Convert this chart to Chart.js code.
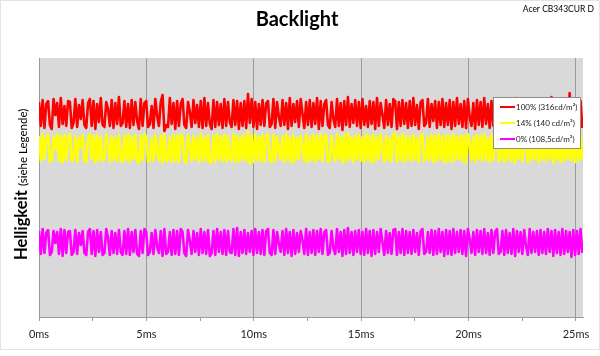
<!DOCTYPE html>
<html><head><meta charset="utf-8">
<script src="https://cdn.jsdelivr.net/npm/chart.js@4/dist/chart.umd.min.js"></script>
<style>html,body{margin:0;padding:0;background:#fff}canvas{display:block}</style>
</head><body>
<canvas id="c" width="600" height="356"></canvas>
<script>
const TITLE = 'Backlight';
const MONITOR = 'Acer CB343CUR D';
const Y_TITLE_MAIN = 'Helligkeit';
const Y_TITLE_SUB = '(siehe Legende)';
const SERIES_LABELS = ['100% (316cd/m²)', '14% (140 cd/m²)', '0% (108,5cd/m²)'];
const SERIES_COLORS = ['#ff0000', '#ffff00', '#ff00ff'];
const X_TICKS_MS = [0, 5, 10, 15, 20, 25];
const X_MAX_MS = 25.33;
const X_END_MS = 25.3;

const red = [
215,191,217,189,213,216,192,188,218,202,214,190,219,193,211,191,216,215,189,194,218,190,212,198,217,
192,189,214,218,191,216,188,213,195,219,192,190,215,208,191,217,189,214,193,220,191,194,216,190,213,
189,217,192,215,196,188,218,191,214,216,190,193,211,189,218,201,191,215,222,186,192,190,219,193,214,
188,216,191,213,218,192,189,215,205,190,217,194,212,190,216,189,219,191,214,193,188,217,190,215,192,
213,189,218,191,215,195,190,217,192,216,188,214,191,216,189,223,194,218,190,215,188,213,192,217,191,
214,216,190,193,218,189,215,200,191,217,192,214,188,219,191,213,195,216,190,218,203,189,215,192,217,
190,214,193,219,188,216,191,213,217,192,189,215,198,190,218,191,214,187,216,192,220,190,213,194,217,
191,215,189,218,192,211,190,216,193,215,188,219,191,214,202,189,217,192,213,190,218,216,188,215,191,
217,193,214,189,216,191,219,192,212,188,215,217,191,194,218,190,213,196,216,189,215,192,218,190,214,
192,217,188,215,191,219,193,213,190,216,189,218,200,191,214,188,217,192,215,190,219,193,213,189,216,
191,214,218,190,192,216,189,215,193,211,190,217,188,219,192,214,191,216,205,189,218,191,213,194,217,
190,215,192,218,189,214,191,220,188,216,193,213,190,217,191,215,189,224,192,214,190,218,191,216,189
];
const yellow = [
181,156,183,158,179,182,155,157,180,168,183,156,181,154,182,157,180,183,156,159,181,155,179,170,182,
157,155,180,183,158,181,154,182,157,180,156,159,183,175,155,181,157,179,156,182,158,155,181,157,183,
155,180,158,182,156,154,181,157,183,180,155,158,179,156,182,166,157,181,154,183,156,158,180,155,182,
156,181,155,183,180,157,154,182,172,156,181,158,179,155,183,157,180,156,182,154,157,181,155,183,158,
180,156,182,155,181,158,157,183,155,181,156,180,157,182,156,185,153,181,155,183,157,180,156,182,155,
181,183,157,155,182,156,180,167,158,181,155,183,157,180,154,182,156,179,158,181,171,156,183,155,180,
157,182,155,181,158,183,156,180,182,155,157,181,164,156,183,158,180,154,182,156,184,157,180,155,181,
158,182,156,180,155,183,157,181,154,182,156,180,158,183,169,155,181,157,179,156,182,184,155,180,157,
183,155,181,157,180,156,182,158,179,155,181,183,156,158,180,157,182,155,181,156,183,158,180,154,182,
156,181,155,183,157,180,158,182,156,181,154,183,173,157,180,155,182,158,181,156,183,157,179,155,182,
157,180,183,156,158,181,155,182,157,179,156,183,154,181,158,180,156,182,170,155,183,157,180,158,181,
155,182,157,180,156,183,158,181,154,182,157,180,155,183,156,181,158,180,157,182,155,181,156,183,157
];
const magenta = [
86,63,88,64,84,87,62,65,86,74,85,63,88,61,87,64,85,86,62,65,87,63,84,72,86,
64,62,85,88,63,86,61,87,65,85,62,64,88,79,62,86,64,84,63,87,65,62,86,63,88,
62,85,65,87,63,61,86,64,88,85,62,65,84,63,87,70,64,86,61,88,63,65,85,62,87,
63,86,62,88,85,64,61,87,76,63,86,65,84,62,88,64,85,63,87,61,64,86,62,88,65,
85,63,87,62,86,65,64,88,62,89,61,85,64,87,63,84,65,86,62,88,64,85,63,87,62,
86,88,64,62,87,63,85,73,65,86,62,88,64,85,61,87,63,84,65,86,77,63,88,62,85,
64,87,62,86,65,88,63,85,87,62,64,86,69,63,88,65,85,61,87,63,89,64,85,62,86,
65,87,63,85,62,88,64,86,61,87,63,85,65,88,75,62,86,64,84,63,87,88,62,85,64,
88,62,86,64,85,63,87,65,84,62,86,88,63,65,85,64,87,62,86,63,88,65,85,61,87,
63,86,62,88,64,85,65,87,63,86,61,88,78,64,85,62,87,65,86,63,88,64,84,62,87,
64,85,88,63,65,86,62,87,64,84,63,88,61,86,65,85,63,87,71,62,88,64,85,65,86,
62,87,64,85,63,88,65,86,61,87,64,85,62,88,63,86,65,85,60,87,62,86,63,88,64
];

const toPoints = arr => arr.map((v, i) => ({ x: i * X_END_MS / (arr.length - 1), y: v }));
const FONT = 'Lato, "Open Sans", sans-serif';

const decorPlugin = {
  id: 'decor',
  beforeDraw(chart) {
    const { ctx, chartArea: a } = chart;
    ctx.save();
    ctx.fillStyle = '#fff';
    ctx.fillRect(0, 0, chart.width, chart.height);
    ctx.strokeStyle = '#e4e4e4';
    ctx.lineWidth = 1;
    ctx.strokeRect(0.5, 0.5, chart.width - 1, 349);
    ctx.fillStyle = '#d9d9d9';
    ctx.fillRect(a.left, a.top, a.right - a.left, a.bottom - a.top);
    ctx.fillStyle = '#000';
    ctx.font = 'bold 20px ' + FONT;
    ctx.textAlign = 'center';
    ctx.textBaseline = 'alphabetic';
    ctx.fillText(TITLE, 297, 26);
    ctx.font = '8.5px ' + FONT;
    ctx.textAlign = 'right';
    ctx.fillText(MONITOR, 594, 12);
    ctx.translate(27, 260);
    ctx.rotate(-Math.PI / 2);
    ctx.textAlign = 'left';
    ctx.font = 'bold 16.5px ' + FONT;
    ctx.fillText(Y_TITLE_MAIN, 0, 0);
    const w = ctx.measureText(Y_TITLE_MAIN).width;
    ctx.font = '11.5px ' + FONT;
    ctx.fillText(Y_TITLE_SUB, w + 4, 0);
    ctx.restore();
  },
  afterDatasetsDraw(chart) {
    const ctx = chart.ctx;
    ctx.save();
    const x0 = 493.5, y0 = 97.5, w = 87, h = 51;
    ctx.fillStyle = '#fff';
    ctx.fillRect(x0, y0, w, h);
    ctx.strokeStyle = '#8c8c8c';
    ctx.lineWidth = 1;
    ctx.strokeRect(x0, y0, w, h);
    chart.data.datasets.forEach((ds, i) => {
      const y = 107 + i * 16;
      ctx.strokeStyle = ds.borderColor;
      ctx.lineWidth = 2;
      ctx.beginPath();
      ctx.moveTo(500, y);
      ctx.lineTo(515, y);
      ctx.stroke();
      ctx.fillStyle = '#1a1a1a';
      ctx.font = '8px ' + FONT;
      ctx.textBaseline = 'middle';
      ctx.textAlign = 'left';
      ctx.fillText(ds.label, 516, y);
    });
    ctx.restore();
  }
};

const isMajor = v => X_TICKS_MS.some(t => Math.abs(t - v) < 1e-6);

new Chart(document.getElementById('c'), {
  type: 'line',
  data: {
    datasets: [
      { label: SERIES_LABELS[0], data: toPoints(red), borderColor: SERIES_COLORS[0] },
      { label: SERIES_LABELS[1], data: toPoints(yellow), borderColor: SERIES_COLORS[1] },
      { label: SERIES_LABELS[2], data: toPoints(magenta), borderColor: SERIES_COLORS[2] }
    ]
  },
  options: {
    responsive: false,
    animation: false,
    devicePixelRatio: 1,
    layout: { padding: { top: 58, left: 39, right: 17, bottom: 0 } },
    elements: {
      point: { radius: 0 },
      line: { borderWidth: 2.6, tension: 0, borderJoinStyle: 'round' }
    },
    plugins: { legend: { display: false }, title: { display: false }, tooltip: { enabled: false } },
    scales: {
      x: {
        type: 'linear',
        min: 0,
        max: X_MAX_MS,
        afterBuildTicks(scale) {
          const t = [];
          for (let k = 0; k <= 10; k++) t.push({ value: k * 2.5 });
          scale.ticks = t;
        },
        afterFit(scale) { scale.height = 39; },
        ticks: {
          autoSkip: false,
          maxRotation: 0,
          padding: 7,
          color: '#262626',
          font: { family: FONT, size: 11 },
          callback: v => isMajor(v) ? v + 'ms' : ''
        },
        grid: {
          drawOnChartArea: true,
          tickLength: 4,
          color: c => isMajor(c.tick.value) ? '#9a9a9a' : 'rgba(0,0,0,0)',
          tickColor: '#9a9a9a',
          lineWidth: 1
        },
        border: { display: true, color: '#9a9a9a' }
      },
      y: {
        display: false,
        min: 0,
        max: 259
      }
    }
  },
  plugins: [decorPlugin]
});
</script>
</body></html>
